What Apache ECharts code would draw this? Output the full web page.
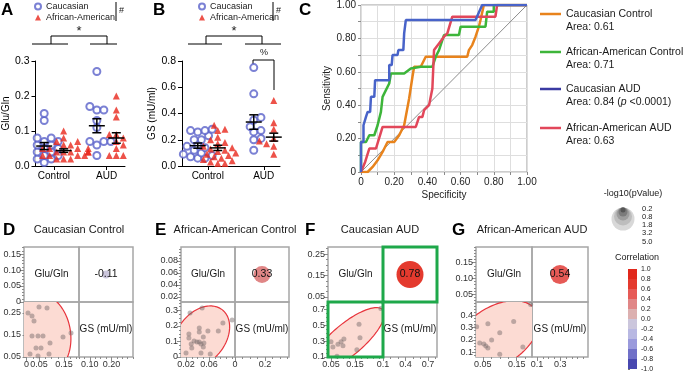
<!DOCTYPE html>
<html>
<head>
<meta charset="utf-8">
<script src="https://cdn.jsdelivr.net/npm/echarts@6.0.0/dist/echarts.min.js"></script>
<style>
  html, body { margin: 0; padding: 0; background: #fff; }
  #chart { width: 685px; height: 374px; }
</style>
</head>
<body>
<div id="chart"></div>
<script>
// ---------- data ----------
var groups = ['Control', 'AUD'];
var races = ['Caucasian', 'African-American'];

// A: Glu/Gln
var gluCaucCtrl = [0.15, 0.13, 0.08, 0.08, 0.07, 0.07, 0.06, 0.06, 0.05, 0.05, 0.04, 0.04, 0.03, 0.03, 0.02, 0.02, 0.01];
var gluAACtrl = [0.10, 0.08, 0.07, 0.07, 0.06, 0.06, 0.05, 0.05, 0.05, 0.05, 0.04, 0.04, 0.04, 0.04, 0.04, 0.03, 0.03, 0.03, 0.03, 0.02, 0.02, 0.02];
var gluCaucAUD = [0.27, 0.17, 0.16, 0.16, 0.13, 0.11, 0.07, 0.07, 0.07, 0.06, 0.03];
var gluAAAUD = [0.20, 0.16, 0.14, 0.09, 0.09, 0.08, 0.07, 0.06, 0.05, 0.03, 0.03, 0.03];
var gluMean = [0.057, 0.044, 0.115, 0.080];
var gluSem = [0.010, 0.005, 0.020, 0.015];

// B: GS (mU/ml)
var gsCaucCtrl = [0.28, 0.27, 0.27, 0.26, 0.23, 0.20, 0.20, 0.16, 0.15, 0.14, 0.12, 0.10, 0.09, 0.08, 0.07, 0.06, 0.06];
var gsAACtrl = [0.31, 0.28, 0.27, 0.22, 0.20, 0.18, 0.17, 0.15, 0.14, 0.13, 0.12, 0.11, 0.10, 0.09, 0.08, 0.07, 0.06, 0.05, 0.04, 0.03, 0.02, 0.02];
var gsCaucAUD = [0.75, 0.55, 0.37, 0.35, 0.30, 0.27, 0.26, 0.21, 0.20, 0.12];
var gsAAAUD = [0.50, 0.35, 0.33, 0.30, 0.28, 0.24, 0.21, 0.19, 0.18, 0.17, 0.16, 0.15, 0.09];
var gsMean = [0.155, 0.138, 0.335, 0.220];
var gsSem = [0.020, 0.020, 0.055, 0.030];

// C: ROC curves [1-spec, sens]
var rocCaucCtrl = [[0, 0], [0.04, 0], [0.07, 0.03], [0.10, 0.07], [0.13, 0.12], [0.16, 0.18], [0.20, 0.18], [0.23, 0.22], [0.26, 0.28], [0.29, 0.44], [0.31, 0.57], [0.32, 0.63], [0.36, 0.63], [0.39, 0.69], [0.64, 0.69], [0.65, 0.73], [0.67, 0.76], [0.69, 0.81], [0.71, 0.87], [0.72, 0.91], [0.74, 1], [1, 1]];
var rocAACtrl = [[0, 0], [0, 0.18], [0.03, 0.18], [0.05, 0.22], [0.08, 0.22], [0.10, 0.28], [0.12, 0.36], [0.13, 0.45], [0.15, 0.49], [0.17, 0.53], [0.18, 0.59], [0.26, 0.59], [0.30, 0.62], [0.36, 0.63], [0.43, 0.63], [0.45, 0.69], [0.47, 0.73], [0.48, 0.74], [0.50, 0.82], [0.59, 0.82], [0.60, 0.87], [0.75, 0.87], [0.76, 0.96], [0.80, 0.96], [0.80, 1], [1, 1]];
var rocCaucAUD = [[0, 0], [0, 0.18], [0.015, 0.18], [0.015, 0.28], [0.03, 0.33], [0.04, 0.36], [0.055, 0.36], [0.06, 0.45], [0.08, 0.45], [0.085, 0.55], [0.17, 0.55], [0.17, 0.64], [0.185, 0.64], [0.19, 0.70], [0.22, 0.70], [0.225, 0.73], [0.255, 0.73], [0.26, 0.83], [0.27, 0.91], [0.69, 0.91], [0.73, 1], [1, 1]];
var rocAAAUD = [[0, 0], [0.025, 0.06], [0.05, 0.14], [0.09, 0.14], [0.13, 0.27], [0.33, 0.27], [0.35, 0.33], [0.37, 0.33], [0.38, 0.37], [0.41, 0.40], [0.43, 0.50], [0.44, 0.73], [0.47, 0.77], [0.50, 0.81], [0.52, 0.83], [0.55, 0.93], [0.81, 0.93], [0.82, 1], [1, 1]];
var rocNames = ['Caucasian Control', 'African-American Control', 'Caucasian AUD', 'African-American AUD'];
var rocAreas = ['0.61', '0.71', '0.84', '0.63'];

// D-G: scatter matrices, pairs [Glu/Gln, GS]
var sctCaucCtrl = [[0.05, 0.277], [0.082, 0.273], [0.006, 0.25], [0.022, 0.236], [0.03, 0.214], [0.022, 0.145], [0.046, 0.145], [0.066, 0.145], [0.146, 0.141], [0.178, 0.159], [0.094, 0.114], [0.038, 0.091], [0.058, 0.091], [0.014, 0.064], [0.046, 0.055], [0.09, 0.064]];
var sctAACtrl = [[0.027, 0.284], [0.048, 0.316], [0.10, 0.239], [0.084, 0.219], [0.043, 0.187], [0.043, 0.161], [0.058, 0.168], [0.076, 0.168], [0.025, 0.148], [0.025, 0.123], [0.05, 0.129], [0.034, 0.103], [0.039, 0.097], [0.043, 0.097], [0.046, 0.084], [0.051, 0.09], [0.029, 0.084], [0.02, 0.026], [0.046, 0.026], [0.062, 0.019], [0.03, 0.058], [0.05, 0.065]];
var sctCaucAUD = [[0.258, 0.71], [0.167, 0.51], [0.171, 0.34], [0.158, 0.19], [0.104, 0.325], [0.10, 0.24], [0.079, 0.26], [0.058, 0.225], [0.05, 0.29], [0.075, 0.11], [0.092, 0.29]];
var sctAAAUD = [[0.032, 0.308], [0.041, 0.175], [0.059, 0.15], [0.065, 0.133], [0.065, 0.333], [0.076, 0.2], [0.10, 0.258], [0.141, 0.35], [0.10, 0.083], [0.168, 0.142], [0.191, 0.49], [0.053, 0.167]];
var matTitles = ['Caucasian Control', 'African-American Control', 'Caucasian AUD', 'African-American AUD'];
var varNames = ['Glu/Gln', 'GS (mU/ml)'];
var corrVals = [-0.11, 0.33, 0.78, 0.54];
var corrLogP = [0.16, 0.87, 2.34, 1.15];
var pLegend = [0.2, 0.8, 1.8, 3.2, 5.0];
var corrTicks = [-1, -0.8, -0.6, -0.4, -0.2, 0, 0.2, 0.4, 0.6, 0.8, 1];

// axis extents and tick labels of the matrix cells
var gluRangeY = [[0, 0.172], [0.0117, 0.103], [0.026, 0.283], [0.025, 0.2]];
var gluRangeX = [[-0.01, 0.21], [0.0113, 0.105], [0.0375, 0.267], [0.03, 0.195]];
var gsRangeY = [[0.05, 0.30], [0, 0.355], [0.1, 0.79], [0.06, 0.51]];
var gsRangeX = [[0.05, 0.30], [0, 0.36], [0.1, 0.82], [0.057, 0.54]];
var gluTicksY = [[0, 0.05, 0.10, 0.15], [0.02, 0.04, 0.06, 0.08], [0.05, 0.15, 0.25], [0.05, 0.10, 0.15]];
var gluTicksX = [[0, 0.05, 0.15], [0.02, 0.06], [0.05, 0.15], [0.05, 0.15]];
var gsTicksY = [[0.05, 0.15, 0.25], [0, 0.1, 0.2, 0.3], [0.1, 0.3, 0.5, 0.7], [0.1, 0.2, 0.3, 0.4]];
var gsTicksX = [[0.10, 0.20], [0, 0.2], [0.1, 0.4, 0.7], [0.1, 0.3]];
var gsDec = [2, 1, 1, 1];

// ---------- layout / helpers ----------
var FONT = "'Liberation Sans', Arial, Helvetica, sans-serif";
var NARROW = "'Liberation Sans Narrow', 'Liberation Sans', Arial, sans-serif";
var corrColors = ['#4848b0', '#7070c8', '#9a9adc', '#b8b8e2', '#cbc6dc', '#dcb0b0', '#e08686', '#e65a56', '#e43a2e', '#e1281c'];
var rocColors = ['#e8831c', '#3db53a', '#4863c9', '#e2475a'];
var legendColors = ['#e8831c', '#3db53a', '#3a3aa2', '#e2475a'];

var grids = [], xAxes = [], yAxes = [], series = [], graphics = [];

function addGrid(l, t, w, h, extra) {
  grids.push(Object.assign({ left: l, top: t, width: w, height: h }, extra || {}));
  return grids.length - 1;
}
function corrColor(v) {
  var i = Math.floor((v + 1) / 0.2);
  return corrColors[Math.max(0, Math.min(9, i))];
}
function fmt(dec) {
  return function (v) { return Math.abs(v) < 1e-9 ? '0' : v.toFixed(dec); };
}
function txt(x, y, s, size, extra) {
  return { type: 'text', silent: true, style: Object.assign({ x: x, y: y, text: s, fontSize: size, fontFamily: FONT, fill: '#1a1a1a', align: 'left', verticalAlign: 'middle' }, extra || {}) };
}
function ln(x1, y1, x2, y2, color, w) {
  return { type: 'line', silent: true, shape: { x1: x1, y1: y1, x2: x2, y2: y2 }, style: { stroke: color || '#000', lineWidth: w || 1 } };
}

// simple dodge so equal values sit side by side
function swarm(vals, center, pxY, pxX) {
  var placed = [], out = [];
  vals.slice().sort(function (a, b) { return a - b; }).forEach(function (v) {
    var y = v * pxY, x = 0, k = 0;
    while (k < 14) {
      x = k === 0 ? 0 : (k % 2 ? 1 : -1) * Math.ceil(k / 2) * 3.6;
      var hit = placed.some(function (p) {
        var dx = p[0] - x, dy = p[1] - y;
        return dx * dx + dy * dy < 36;
      });
      if (!hit) break;
      k++;
    }
    placed.push([x, y]);
    out.push([center + x / pxX, v]);
  });
  return out;
}

function errItem(params, api) {
  var x = api.value(0), m = api.value(1), s = api.value(2);
  var c = api.coord([x, m]), t = api.coord([x, m + s]), b = api.coord([x, m - s]);
  var st = { stroke: '#000', lineWidth: 1.5 };
  return {
    type: 'group', children: [
      { type: 'line', shape: { x1: c[0] - 8, y1: c[1], x2: c[0] + 8, y2: c[1] }, style: st },
      { type: 'line', shape: { x1: t[0], y1: t[1], x2: b[0], y2: b[1] }, style: st },
      { type: 'line', shape: { x1: t[0] - 4.5, y1: t[1], x2: t[0] + 4.5, y2: t[1] }, style: st },
      { type: 'line', shape: { x1: b[0] - 4.5, y1: b[1], x2: b[0] + 4.5, y2: b[1] }, style: st }
    ]
  };
}

function dotPanel(gi, sets, mean, sem, xr, yMax, step, yName, nameGap) {
  var xi = xAxes.length, yi = yAxes.length;
  var g = grids[gi];
  var pxY = g.height / yMax, pxX = g.width / (xr[1] - xr[0]);
  xAxes.push({
    gridIndex: gi, type: 'value', min: xr[0], max: xr[1], splitLine: { show: false },
    axisLine: { show: true, onZero: false, lineStyle: { color: '#000', width: 1 } },
    axisTick: { show: true, customValues: [0, 1], length: 4, lineStyle: { color: '#000' } },
    axisLabel: { customValues: [0, 1], formatter: function (v) { return groups[Math.round(v)]; }, fontSize: 10, color: '#000', margin: 5, fontFamily: NARROW }
  });
  yAxes.push({
    gridIndex: gi, type: 'value', min: 0, max: yMax, interval: step, splitLine: { show: false },
    axisLine: { show: true, onZero: false, lineStyle: { color: '#000', width: 1 } },
    axisTick: { show: true, length: 4, lineStyle: { color: '#000' } },
    axisLabel: { formatter: function (v) { return v.toFixed(1); }, fontSize: 10.5, color: '#000', margin: 6, fontFamily: NARROW },
    name: yName, nameLocation: 'middle', nameGap: nameGap, nameRotate: 90,
    nameTextStyle: { fontSize: 10, color: '#000', fontFamily: NARROW }
  });
  var sub = 10 / pxX;
  var centers = [-sub, sub, 1 - sub, 1 + sub];
  series.push({
    type: 'scatter', name: races[0], xAxisIndex: xi, yAxisIndex: yi, symbol: 'emptyCircle', symbolSize: 7,
    itemStyle: { color: '#5a62c9', borderWidth: 1 }, silent: true,
    data: swarm(sets[0], centers[0], pxY, pxX).concat(swarm(sets[2], centers[2], pxY, pxX))
  });
  series.push({
    type: 'scatter', name: races[1], xAxisIndex: xi, yAxisIndex: yi, symbol: 'triangle', symbolSize: 7,
    itemStyle: { color: '#e8271b' }, silent: true,
    data: swarm(sets[1], centers[1], pxY, pxX).concat(swarm(sets[3], centers[3], pxY, pxX))
  });
  series.push({
    type: 'custom', xAxisIndex: xi, yAxisIndex: yi, renderItem: errItem, silent: true, z: 5,
    data: centers.map(function (c, i) { return [c, mean[i], sem[i]]; })
  });
}

// value axis pair: major ticks+labels and short minor ticks
function valAxes(list, gi, pos, range, majors, minorStep, dec) {
  var minors = [];
  for (var v = Math.ceil(range[0] / minorStep - 1e-9) * minorStep; v <= range[1] + 1e-9; v += minorStep) {
    minors.push(+v.toFixed(5));
  }
  var base = { gridIndex: gi, type: 'value', position: pos, min: range[0], max: range[1], splitLine: { show: false }, axisLine: { show: false } };
  list.push(Object.assign({}, base, {
    axisTick: { show: true, customValues: majors, length: 4, lineStyle: { color: '#8a8a8a' } },
    axisLabel: { show: true, customValues: majors, formatter: fmt(dec), fontSize: 9, color: '#333', margin: 3, fontFamily: FONT }
  }));
  var idx = list.length - 1;
  list.push(Object.assign({}, base, {
    axisTick: { show: true, customValues: minors, length: 2, lineStyle: { color: '#8a8a8a' } },
    axisLabel: { show: false }
  }));
  return idx;
}
function hidden(list, gi) {
  list.push({ gridIndex: gi, type: 'value', min: 0, max: 1, show: false });
  return list.length - 1;
}
function ellipsePts(pts) {
  var n = pts.length, mx = 0, my = 0, sxx = 0, syy = 0, sxy = 0;
  pts.forEach(function (p) { mx += p[0]; my += p[1]; });
  mx /= n; my /= n;
  pts.forEach(function (p) {
    var dx = p[0] - mx, dy = p[1] - my;
    sxx += dx * dx; syy += dy * dy; sxy += dx * dy;
  });
  sxx /= n - 1; syy /= n - 1; sxy /= n - 1;
  var k = Math.sqrt(5.991), a = Math.sqrt(sxx), b = sxy / a, c = Math.sqrt(Math.max(syy - b * b, 1e-12));
  var out = [];
  for (var i = 0; i <= 120; i++) {
    var t = i / 120 * 2 * Math.PI, u = Math.cos(t), w = Math.sin(t);
    out.push([mx + k * a * u, my + k * (b * u + c * w)]);
  }
  return out;
}

// ---------- A and B ----------
var gA = addGrid(33, 61, 92, 105);
dotPanel(gA, [gluCaucCtrl, gluAACtrl, gluCaucAUD, gluAAAUD], gluMean, gluSem, [-0.35, 1.35], 0.3, 0.1, 'Glu/Gln', 20);
var gB = addGrid(182, 61, 98, 105);
dotPanel(gB, [gsCaucCtrl, gsAACtrl, gsCaucAUD, gsAAAUD], gsMean, gsSem, [-0.46, 1.29], 0.8, 0.2, 'GS (mU/ml)', 16);

// ---------- C ----------
var gC = addGrid(361, 4, 166, 168, { show: true, borderColor: '#9a9a9a', borderWidth: 1 });
function rocLabel(v) {
  var k = Math.round(v * 10);
  if (k % 2) return '';
  return k === 0 ? '0' : (k / 10).toFixed(2);
}
var xC = xAxes.length, yC = yAxes.length;
xAxes.push({
  gridIndex: gC, type: 'value', min: 0, max: 1, interval: 0.1,
  axisLine: { show: false }, axisTick: { length: 3, lineStyle: { color: '#8a8a8a' } },
  splitLine: { show: true, lineStyle: { color: '#dedede', width: 1 } },
  axisLabel: { formatter: rocLabel, fontSize: 10, color: '#222', margin: 5 },
  name: 'Specificity', nameLocation: 'middle', nameGap: 18, nameTextStyle: { fontSize: 10, color: '#222' }
});
yAxes.push({
  gridIndex: gC, type: 'value', min: 0, max: 1, interval: 0.1,
  axisLine: { show: false }, axisTick: { length: 3, lineStyle: { color: '#8a8a8a' } },
  splitLine: { show: true, lineStyle: { color: '#dedede', width: 1 } },
  axisLabel: { formatter: rocLabel, fontSize: 10, color: '#222', margin: 5 },
  name: 'Sensitivity', nameLocation: 'middle', nameGap: 28, nameRotate: 90, nameTextStyle: { fontSize: 10, color: '#222' }
});
series.push({
  type: 'line', xAxisIndex: xC, yAxisIndex: yC, data: [[0, 0], [1, 1]], showSymbol: false, silent: true,
  lineStyle: { color: '#8c8c8c', width: 1 }
});
[rocCaucCtrl, rocAACtrl, rocAAAUD, rocCaucAUD].forEach(function (d, i) {
  var ci = [0, 1, 3, 2][i];
  series.push({
    type: 'line', name: rocNames[ci], xAxisIndex: xC, yAxisIndex: yC, data: d, showSymbol: false, silent: true,
    lineStyle: { color: rocColors[ci], width: 2.5 }
  });
});
rocNames.forEach(function (n, i) {
  var y = [14, 52, 89, 128][i];
  graphics.push(ln(540, y, 561, y, legendColors[i], 2.5));
  graphics.push(txt(566, y, n, 10.5));
  if (i === 2) {
    graphics.push({
      type: 'text', silent: true, style: {
        x: 566, y: y + 13, text: '{n|Area: ' + rocAreas[i] + ' (}{i|p}{n| <0.0001)}', verticalAlign: 'middle',
        rich: { n: { fontSize: 10.5, fontFamily: FONT, fill: '#1a1a1a' }, i: { fontSize: 10.5, fontFamily: FONT, fontStyle: 'italic', fill: '#1a1a1a' } }
      }
    });
  } else {
    graphics.push(txt(566, y + 13, 'Area: ' + rocAreas[i], 10.5));
  }
});

// ---------- D-G scatter matrices ----------
var matFrames = [[24, 79, 133], [181, 235, 289], [328, 383, 437], [476, 532, 588]];
var Y0 = 247, YM = 302, Y1 = 357;
var minorGluY = [0.01, 0.005, 0.025, 0.01];
var minorGluX = [0.025, 0.01, 0.025, 0.025];
var minorGsY = [0.025, 0.025, 0.05, 0.025];
var minorGsX = [0.025, 0.05, 0.1, 0.05];
var matPts = [sctCaucCtrl, sctAACtrl, sctCaucAUD, sctAAAUD];
var titleX = [79, 235, 380, 532];
var letterX = [3, 155, 305, 452];

matFrames.forEach(function (f, p) {
  var X0 = f[0], XM = f[1], X1 = f[2];
  var cell = { show: true, borderColor: '#a6a6a6', borderWidth: 1.5, backgroundColor: 'transparent' };
  var gTL = addGrid(X0, Y0, XM - X0, YM - Y0, cell);
  var gTR = addGrid(XM, Y0, X1 - XM, YM - Y0, cell);
  var gBL = addGrid(X0, YM, XM - X0, Y1 - YM, cell);
  var gBR = addGrid(XM, YM, X1 - XM, Y1 - YM, cell);

  // top-left: Glu/Gln scale
  hidden(xAxes, gTL);
  valAxes(yAxes, gTL, 'left', gluRangeY[p], gluTicksY[p], minorGluY[p], 2);

  // top-right: correlation bubble
  xAxes.push({ gridIndex: gTR, type: 'category', data: [varNames[1]], show: false });
  yAxes.push({ gridIndex: gTR, type: 'category', data: [varNames[0]], show: false });
  series.push({
    type: 'scatter', xAxisIndex: xAxes.length - 1, yAxisIndex: yAxes.length - 1, silent: true,
    data: [{ value: [0, 0] }],
    symbolSize: 1 + 26 * Math.sqrt(corrLogP[p] / 2.34),
    itemStyle: { color: corrColor(corrVals[p]), opacity: 1 },
    label: { show: true, position: 'inside', formatter: corrVals[p].toFixed(2), fontSize: 10.5, color: '#111', fontFamily: FONT }
  });

  // bottom-left: GS vs Glu/Gln
  var xBL = valAxes(xAxes, gBL, 'bottom', gluRangeX[p], gluTicksX[p], minorGluX[p], 2);
  var yBL = valAxes(yAxes, gBL, 'left', gsRangeY[p], gsTicksY[p], minorGsY[p], gsDec[p]);
  var ell = ellipsePts(matPts[p]);
  series.push({
    type: 'custom', xAxisIndex: xBL, yAxisIndex: yBL, clip: true, silent: true, data: [[0, 0]],
    renderItem: function (params, api) {
      return {
        type: 'polygon', shape: { points: ell.map(function (q) { return api.coord(q); }) },
        style: { fill: '#fcdbd3', stroke: '#e8343c', lineWidth: 1.2 }
      };
    }
  });
  series.push({
    type: 'scatter', xAxisIndex: xBL, yAxisIndex: yBL, data: matPts[p], symbolSize: 5, silent: true,
    itemStyle: { color: 'rgba(120,106,106,0.6)' }
  });

  // bottom-right: GS scale
  valAxes(xAxes, gBR, 'bottom', gsRangeX[p], gsTicksX[p], minorGsX[p], gsDec[p]);
  hidden(yAxes, gBR);

  graphics.push(txt((X0 + XM) / 2, (Y0 + YM) / 2, varNames[0], 10, { align: 'center' }));
  graphics.push(txt((XM + X1) / 2, (YM + Y1) / 2, varNames[1], 10, { align: 'center' }));
  graphics.push(txt(titleX[p], 230, matTitles[p], 11, { align: 'center' }));
  graphics.push(txt(letterX[p], 230, 'DEFG'.charAt(p), 17, { fontWeight: 'bold', fill: '#000' }));
});

// highlighted cells in F
graphics.push({ type: 'rect', silent: true, z: 10, shape: { x: 383, y: 247, width: 54, height: 55 }, style: { fill: 'none', stroke: '#1ea84a', lineWidth: 3 } });
graphics.push({ type: 'rect', silent: true, z: 10, shape: { x: 328, y: 302, width: 55, height: 55 }, style: { fill: 'none', stroke: '#1ea84a', lineWidth: 3 } });

// ---------- colour bar ----------
var gCB = addGrid(628, 269, 9, 100);
var xCB = hidden(xAxes, gCB);
var yCB = yAxes.length;
yAxes.push({
  gridIndex: gCB, type: 'value', position: 'right', min: -1, max: 1, interval: 0.2,
  axisLine: { show: false }, splitLine: { show: false },
  axisTick: { show: true, length: 2, lineStyle: { color: '#777' } },
  axisLabel: { fontSize: 7, color: '#222', margin: 4, formatter: function (v) { return Math.abs(v) < 1e-9 ? '0.0' : v.toFixed(1); } }
});
series.push({
  type: 'custom', xAxisIndex: xCB, yAxisIndex: yCB, silent: true,
  data: corrTicks.slice(0, -1).map(function (lo, i) { return [lo, corrTicks[i + 1]]; }),
  renderItem: function (params, api) {
    var lo = api.value(0), hi = api.value(1);
    var a = api.coord([0, hi]), b = api.coord([1, lo]);
    return { type: 'rect', shape: { x: a[0], y: a[1], width: b[0] - a[0], height: b[1] - a[1] }, style: { fill: corrColor((lo + hi) / 2) } };
  }
});
graphics.push(txt(637, 258, 'Correlation', 9, { align: 'center' }));

// -log10(pValue) size key
graphics.push(txt(633, 194, '-log10(pValue)', 9, { align: 'center' }));
var keyR = [11.5, 9, 6.5, 4.5, 2.5];
var keyFill = ['#d8d8d8', '#bdbdbd', '#9d9d9d', '#7b7b7b', '#565656'];
keyR.forEach(function (r, i) {
  graphics.push({ type: 'circle', silent: true, shape: { cx: 623, cy: 207.5 + r, r: r }, style: { fill: keyFill[i] } });
});
pLegend.forEach(function (v, i) {
  graphics.push(txt(642, [209, 217, 225, 233, 242][i], v.toFixed(1), 7.5));
});

// ---------- A / B annotations ----------
graphics.push(txt(1, 10, 'A', 17, { fontWeight: 'bold', fill: '#000' }));
graphics.push(txt(153, 10, 'B', 17, { fontWeight: 'bold', fill: '#000' }));
graphics.push(txt(299, 10, 'C', 17, { fontWeight: 'bold', fill: '#000' }));
[[116, 119], [273, 276]].forEach(function (b) {
  graphics.push(ln(b[0], 2, b[0], 21, '#000', 1));
  graphics.push(txt(b[1], 11, '#', 9, { fontFamily: NARROW }));
});
// significance brackets
graphics.push(ln(32, 44, 68, 44), ln(90, 44, 117, 44), ln(51, 36, 107, 36), ln(51, 36, 51, 44), ln(107, 36, 107, 44));
graphics.push(txt(79, 31, '*', 13, { align: 'center' }));
graphics.push(ln(188, 44, 222, 44), ln(245, 44, 281, 44), ln(206, 36, 262, 36), ln(206, 36, 206, 44), ln(262, 36, 262, 44));
graphics.push(txt(234, 31, '*', 13, { align: 'center' }));
graphics.push(ln(253, 60, 274, 60), ln(253, 60, 253, 64), ln(274, 60, 274, 90));
graphics.push(txt(264, 53, '%', 9, { align: 'center', fontFamily: NARROW }));

var legendBase = {
  data: races, orient: 'vertical', top: 2, padding: 0, itemWidth: 6, itemHeight: 6, itemGap: 2,
  itemStyle: { borderWidth: 1 },
  selectedMode: false, textStyle: { fontSize: 9, lineHeight: 9, color: '#1a1a1a', fontFamily: NARROW }
};

var chart = echarts.init(document.getElementById('chart'), null, { renderer: 'canvas' });
chart.setOption({
  animation: false,
  backgroundColor: '#fff',
  textStyle: { fontFamily: FONT },
  legend: [Object.assign({ left: 34 }, legendBase), Object.assign({ left: 198 }, legendBase)],
  grid: grids,
  xAxis: xAxes,
  yAxis: yAxes,
  series: series,
  graphic: graphics
});
</script>
</body>
</html>
